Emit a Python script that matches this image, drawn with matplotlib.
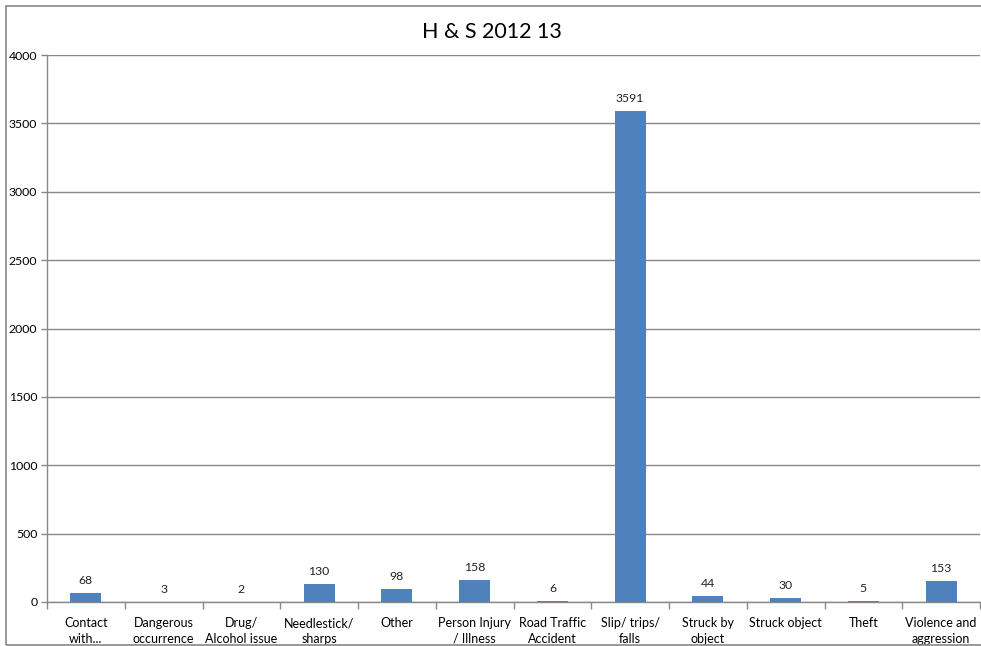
import matplotlib
matplotlib.use('Agg')
import matplotlib.pyplot as plt
from matplotlib.patches import Rectangle
import numpy as np

plt.rcParams['font.family'] = ['Lato', 'DejaVu Sans']

categories = ['Contact\nwith...', 'Dangerous\noccurrence', 'Drug/\nAlcohol issue',
              'Needlestick/\nsharps', 'Other', 'Person Injury\n/ Illness',
              'Road Traffic\nAccident', 'Slip/ trips/\nfalls', 'Struck by\nobject',
              'Struck object', 'Theft', 'Violence and\naggression']
counts = [68, 3, 2, 130, 98, 158, 6, 3591, 44, 30, 5, 153]
yticks = [0, 500, 1000, 1500, 2000, 2500, 3000, 3500, 4000]

W, H = 981, 646
fig = plt.figure(figsize=(W / 100, H / 100), dpi=100)
ax = fig.add_axes([47 / W, (H - 602) / H, (980 - 47) / W, (602 - 55) / H])

grey = '#888888'
x = np.arange(len(categories))
ax.bar(x, counts, width=0.4, color='#4F81BD', zorder=3)
for xi, v in zip(x, counts):
    ax.annotate(str(v), (xi, v), xytext=(0, 5), textcoords='offset points',
                ha='center', va='bottom', fontsize=8.8, color='#222222')

ax.set_xlim(-0.5, len(categories) - 0.5)
ax.set_ylim(0, 4000)
ax.set_yticks(yticks)
ax.yaxis.grid(True, color=grey, linewidth=1, zorder=0)
ax.set_xticks(x)
ax.set_xticklabels(categories, fontsize=9, linespacing=1.35)
ax.set_xticks(np.arange(len(categories) + 1) - 0.5, minor=True)
ax.tick_params(axis='x', which='major', length=0, pad=11)
ax.tick_params(axis='x', which='minor', length=5, color=grey, width=1)
ax.tick_params(axis='y', length=4, color=grey, width=1, labelsize=8.8, pad=3)
for s in ['top', 'right']:
    ax.spines[s].set_visible(False)
for s in ['left', 'bottom']:
    ax.spines[s].set_color(grey)
    ax.spines[s].set_linewidth(1)

fig.text(492 / W, 1 - 32 / H, 'H & S 2012 13', ha='center', va='center', fontsize=15.5)

fig.patches.append(Rectangle((6 / W, 1 / H), 1.2, (645 - 6) / H, transform=fig.transFigure,
                             fill=False, edgecolor=grey, linewidth=1.2))

fig.savefig('out.png', dpi=100)
